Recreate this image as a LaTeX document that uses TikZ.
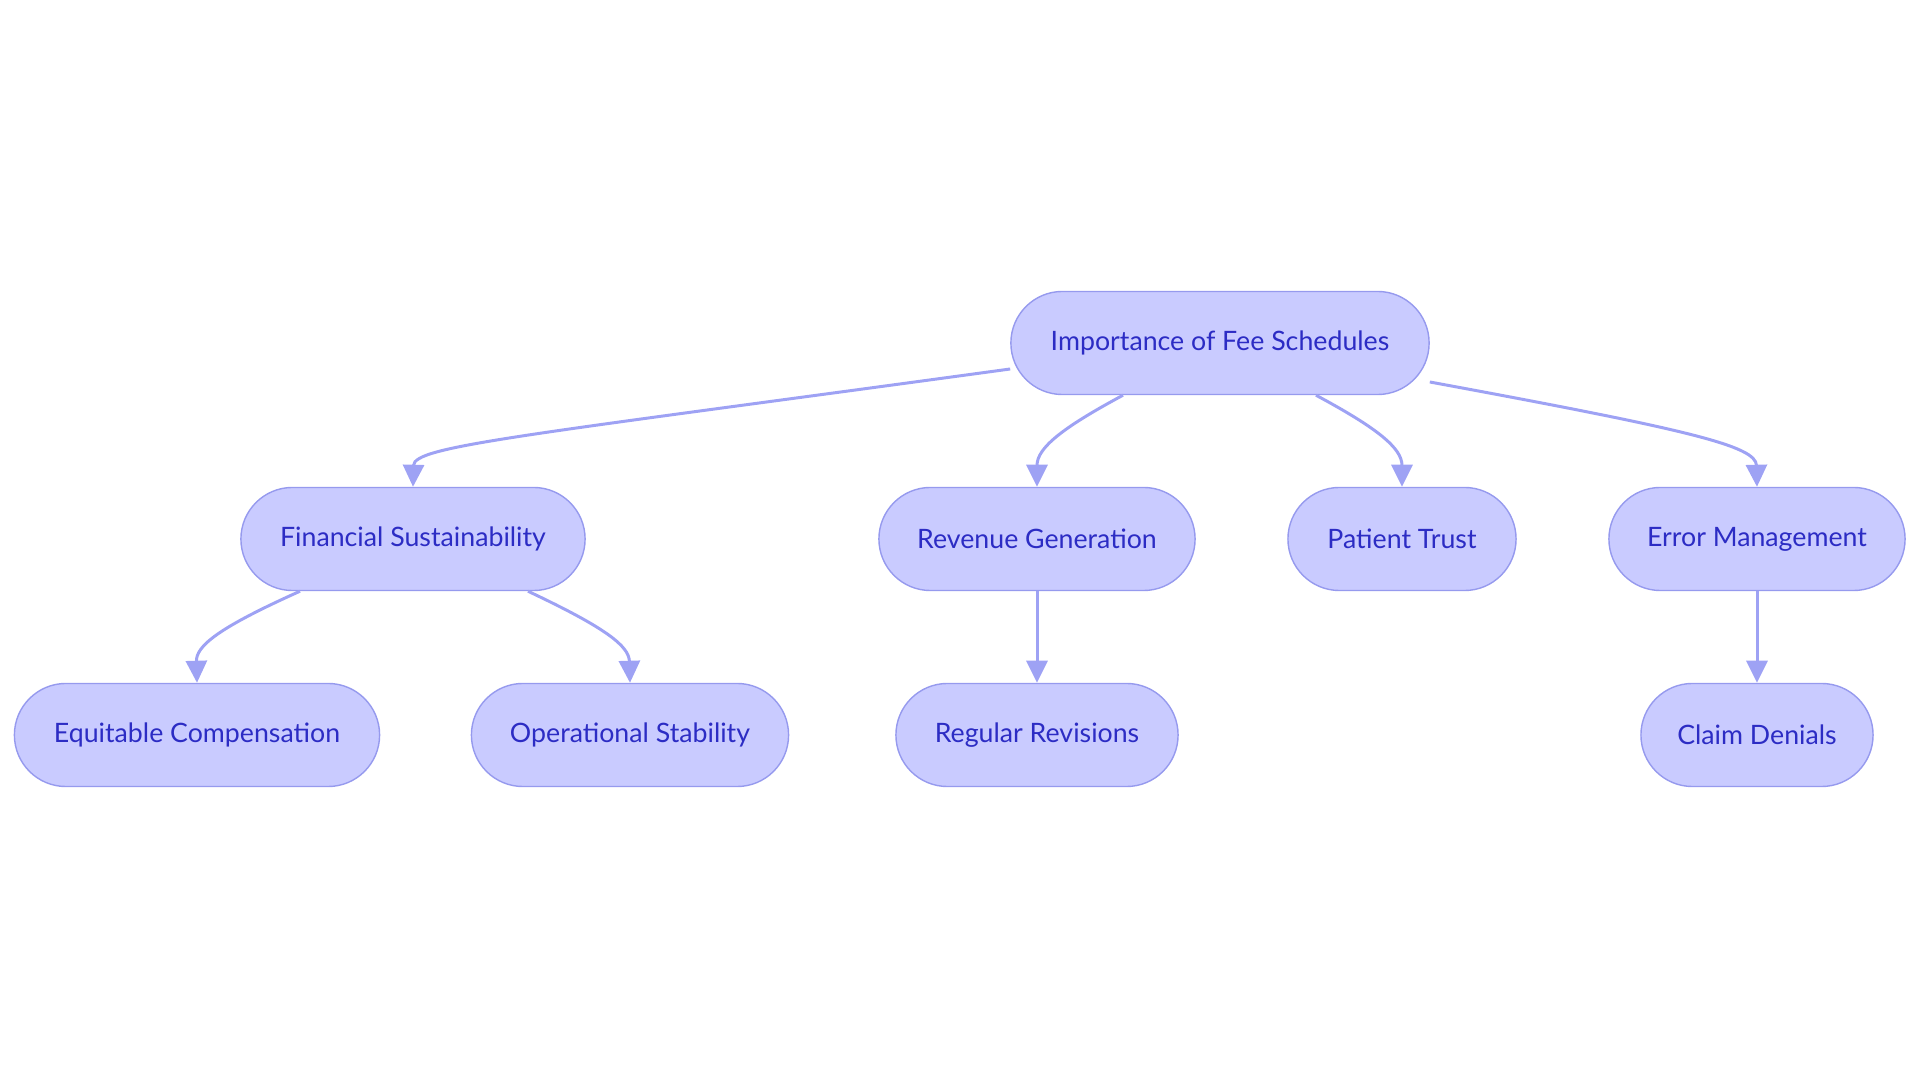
\documentclass[tikz,border=0pt]{standalone}
\usepackage{fontspec}
\setmainfont{Lato}
\usetikzlibrary{arrows.meta,calc}
\definecolor{topicfill}{RGB}{201,203,255}
\definecolor{topicline}{RGB}{150,154,238}
\definecolor{topictext}{RGB}{44,44,196}
\definecolor{linkline}{RGB}{158,162,244}
\begin{document}
\begin{tikzpicture}[x=0.01cm,y=-0.01cm,
    topic/.style={draw=topicline,line width=0.4pt,fill=topicfill,text=topictext,
      rounded corners=0.515cm,minimum height=1.03cm,inner sep=0pt,
      font=\fontsize{7.6}{9}\selectfont},
    link/.style={draw=linkline,line width=0.85pt,
      -{Triangle[length=0.22cm,width=0.21cm]}}]
  \useasboundingbox (0,0) rectangle (1920,1083);
  % top
  \node[topic,minimum width=4.18cm] (fees) at (1220,343) {Importance of Fee Schedules};
  % middle row
  \node[topic,minimum width=3.44cm] (fin) at (413,539) {Financial Sustainability};
  \node[topic,minimum width=3.16cm] (rev) at (1037,539) {Revenue Generation};
  \node[topic,minimum width=2.28cm] (trust) at (1402,539) {Patient Trust};
  \node[topic,minimum width=2.96cm] (err) at (1757,539) {Error Management};
  % bottom row
  \node[topic,minimum width=3.65cm] (comp) at (197,735) {Equitable Compensation};
  \node[topic,minimum width=3.17cm] (stab) at (630,735) {Operational Stability};
  \node[topic,minimum width=2.82cm] (revs) at (1037,735) {Regular Revisions};
  \node[topic,minimum width=2.32cm] (deny) at (1757,735) {Claim Denials};
  % links
  \draw[link] ($(fees.west)+(0,26)$) .. controls (520,436) and (414,446) .. (fin.north);
  \draw[link] ($(fees.south)+(-97,0)$) .. controls (1062,428) and (1037,448) .. (rev.north);
  \draw[link] ($(fees.south)+(96,0)$) .. controls (1377,428) and (1402,448) .. (trust.north);
  \draw[link] ($(fees.east)+(0,39)$) .. controls (1690,430) and (1756,446) .. (err.north);
  \draw[link] ($(fin.south)+(-113,0)$) .. controls (218,628) and (196,646) .. (comp.north);
  \draw[link] ($(fin.south)+(115,0)$) .. controls (606,628) and (629,646) .. (stab.north);
  \draw[link] (rev) -- (revs);
  \draw[link] (err) -- (deny);
\end{tikzpicture}
\end{document}
